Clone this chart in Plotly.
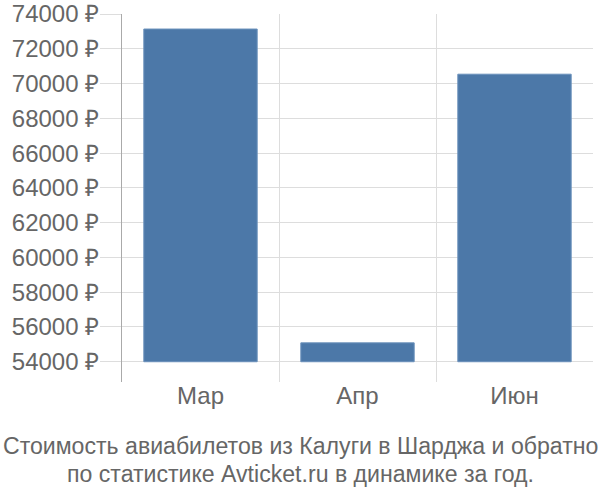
import plotly.graph_objects as go

categories = ["Мар", "Апр", "Июн"]
prices = [73135, 55086, 70538]
bar_base = 54000
tick_values = [54000, 56000, 58000, 60000, 62000, 64000, 66000, 68000, 70000, 72000, 74000]
tick_labels = [f"{v} ₽" for v in tick_values]
title_lines = ["Стоимость авиабилетов из Калуги в Шарджа и обратно",
               "по статистике Avticket.ru в динамике за год."]

fig = go.Figure(go.Bar(
    x=categories,
    y=[p - bar_base for p in prices],
    base=bar_base,
    marker=dict(color="#4c78a8", line=dict(color="#6a90bb", width=1)),
))

W, H = 600, 500
PL, PR, PT, PB = 122, 7, 14, 118
pw, ph = W - PL - PR, H - PT - PB

def px_x(x):
    return (x - PL) / pw

def px_y(y):
    return (H - PB - y) / ph

annotations = []
for line, ypix in zip(title_lines, [446, 474]):
    annotations.append(dict(
        text=line, x=px_x(300), xref="paper", xanchor="center",
        y=px_y(ypix), yref="paper", yanchor="middle", showarrow=False,
        font=dict(size=23.1, color="#666666"),
    ))

fig.update_layout(
    width=W, height=H,
    margin=dict(l=PL, r=PR, t=PT, b=PB, autoexpand=False),
    paper_bgcolor="white", plot_bgcolor="white",
    bargap=0.278,
    showlegend=False,
    font=dict(family="Liberation Sans, Arial, sans-serif", color="#666666"),
    annotations=annotations,
)

fig.update_xaxes(
    tickson="boundaries", automargin=False,
    showgrid=True, gridcolor="#dddddd", gridwidth=1,
    ticks="", showline=False, zeroline=False,
    ticklabelstandoff=-3,
    tickfont=dict(size=24, color="#666666"),
)
fig.update_yaxes(
    range=[52835, 74000], automargin=False,
    tickvals=tick_values, ticktext=tick_labels,
    showgrid=True, gridcolor="#dddddd", gridwidth=1,
    ticks="outside", ticklen=21, tickcolor="#dddddd",
    ticklabelstandoff=-4, ticklabeloverflow="allow",
    showline=True, linecolor="#aaaaaa", linewidth=1,
    zeroline=False,
    tickfont=dict(size=24, color="#666666"),
)

fig.write_html(
    "out.html",
    config={"displayModeBar": False},
    post_script="document.body.style.margin='0';document.body.style.overflow='hidden';",
)
